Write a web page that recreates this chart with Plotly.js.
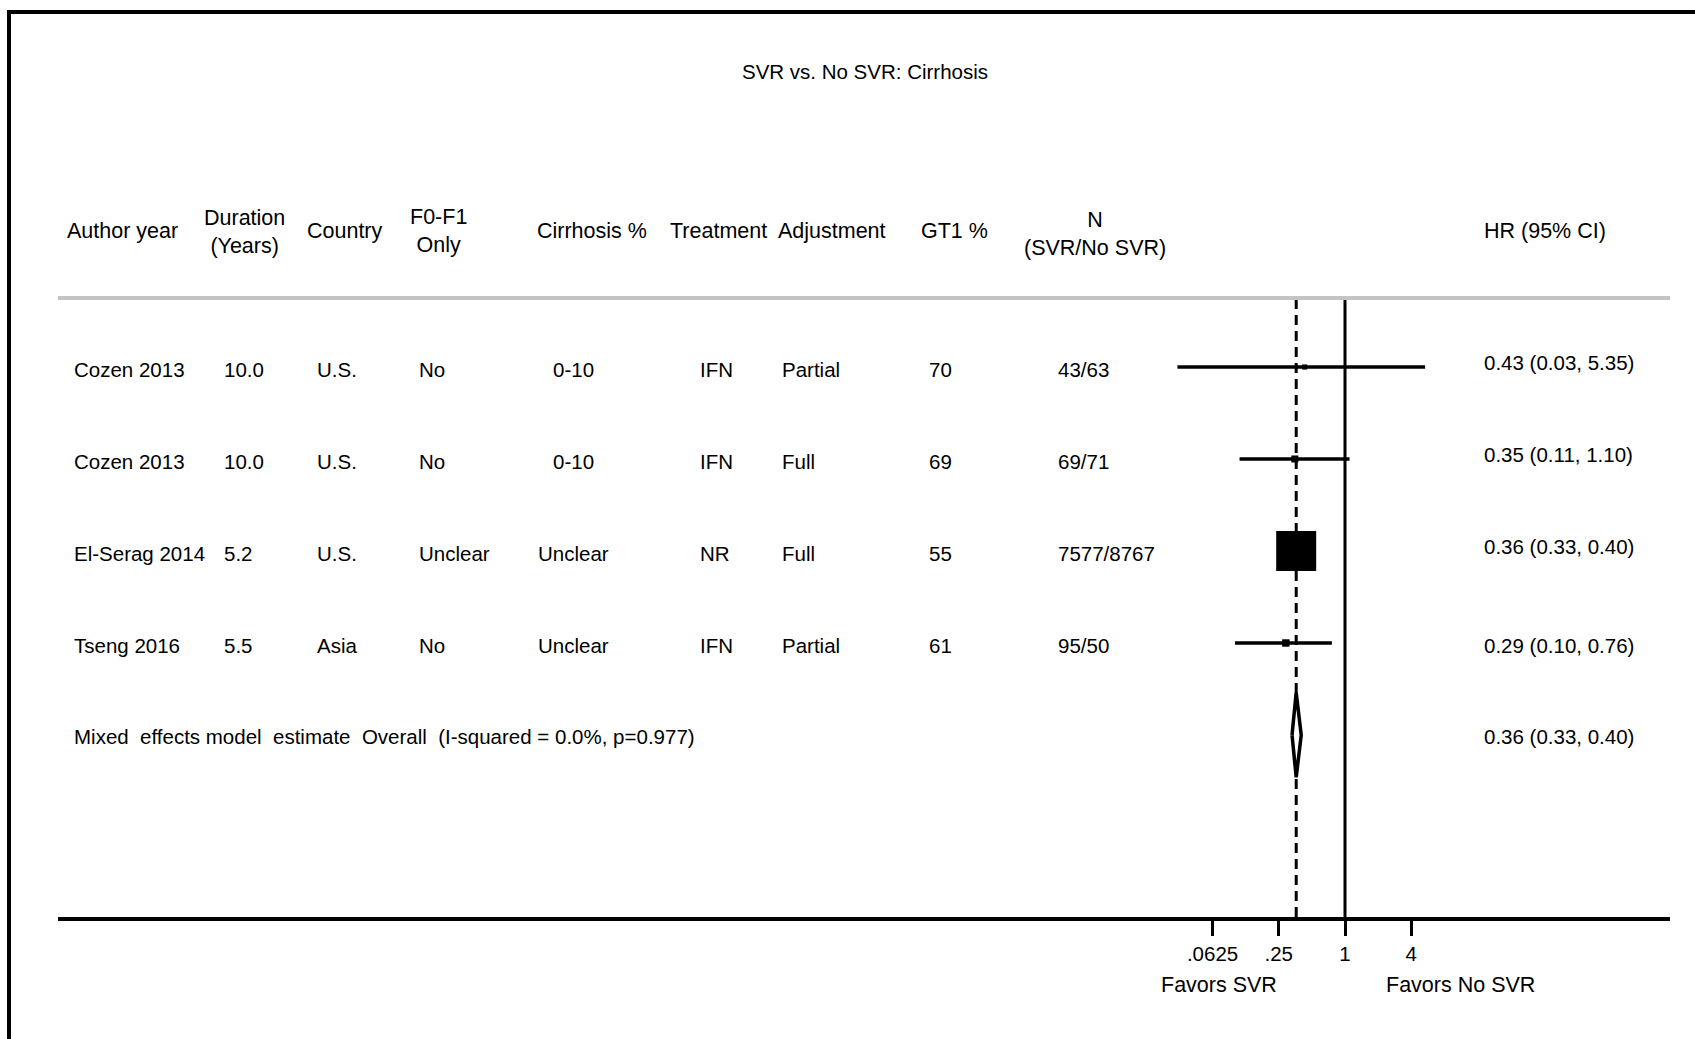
<!DOCTYPE html>
<html>
<head>
<meta charset="utf-8">
<script src="https://cdn.plot.ly/plotly-3.0.1.min.js"></script>
<style>
  html, body { margin: 0; padding: 0; background: #fff; }
  #chart { width: 1695px; height: 1039px; }
</style>
</head>
<body>
<div id="chart"></div>
<script>
// ---------------- DATA ----------------
const chartTitle = 'SVR vs. No SVR: Cirrhosis';
const authors    = ['Cozen 2013', 'Cozen 2013', 'El-Serag 2014', 'Tseng 2016'];
const duration   = ['10.0', '10.0', '5.2', '5.5'];
const country    = ['U.S.', 'U.S.', 'U.S.', 'Asia'];
const f0f1Only   = ['No', 'No', 'Unclear', 'No'];
const cirrhosis  = ['0-10', '0-10', 'Unclear', 'Unclear'];
const treatment  = ['IFN', 'IFN', 'NR', 'IFN'];
const adjustment = ['Partial', 'Full', 'Full', 'Partial'];
const gt1        = ['70', '69', '55', '61'];
const nSvr       = ['43/63', '69/71', '7577/8767', '95/50'];
const hr         = [0.43, 0.35, 0.36, 0.29];
const lower      = [0.03, 0.11, 0.33, 0.10];
const upper      = [5.35, 1.10, 0.40, 0.76];
const weights    = [0.1, 0.7, 98.3, 0.9];
const overallHR  = 0.36;
const overallLo  = 0.33;
const overallHi  = 0.40;
const overallLabel = 'Mixed\u00a0 effects model\u00a0 estimate\u00a0 Overall\u00a0 (I-squared = 0.0%, p=0.977)';
const headers = [
  {text: 'Author year'}, {text: 'Duration<br>(Years)'}, {text: 'Country'},
  {text: 'F0-F1<br>Only'}, {text: 'Cirrhosis %'}, {text: 'Treatment'},
  {text: 'Adjustment'}, {text: 'GT1 %'}, {text: 'N<br>(SVR/No SVR)'}, {text: 'HR (95% CI)'}
];
const tickVals  = [0.0625, 0.25, 1, 4];
const tickText  = ['.0625', '.25', '1', '4'];
const favorsLeft  = 'Favors SVR';
const favorsRight = 'Favors No SVR';

// ---------------- LAYOUT GEOMETRY ----------------
const W = 1695, H = 1039;
const L = 58, R = 1670, T = 298, B = 917;
const pxX = p => (p - L) / (R - L);
const pxY = p => (B - p) / (B - T);
// log axis: value 1 at pixel 1345, 110 px per decade
const pxPerDec = 110, onePix = 1345;
const xRange = [(L - onePix) / pxPerDec, (R - onePix) / pxPerDec];
const rowTopPix = 367, rowBotPix = 735;
const nRows = authors.length;
const rowStep = (rowBotPix - rowTopPix) / nRows;
const yAt = p => nRows - (p - rowTopPix) / rowStep;
const yRange = [yAt(B), yAt(T)];
const rowY = authors.map((_, i) => nRows - i);
const overallY = 0;
const textShift = -2;                  // table text sits slightly below the markers
const hrTextShift = [5, 5, 5, -2];      // HR column offsets as in the reference

const FONT = 'Arial, "Liberation Sans", sans-serif';
const rowFont = {family: FONT, size: 20.5, color: '#000'};
const headFont = {family: FONT, size: 21.5, color: '#000'};

// ---------------- TRACES ----------------
const traces = [];
const yBot = yRange[0], yTop = yRange[1];
traces.push({x: [overallHR, overallHR], y: [yBot, yTop], mode: 'lines',
  line: {color: '#000', width: 3, dash: '10px,6px'}, hoverinfo: 'skip', showlegend: false});
traces.push({x: [1, 1], y: [yBot, yTop], mode: 'lines',
  line: {color: '#000', width: 3}, hoverinfo: 'skip', showlegend: false});
const ciX = [], ciY = [];
for (let i = 0; i < nRows; i++) { ciX.push(lower[i], upper[i], null); ciY.push(rowY[i], rowY[i], null); }
traces.push({x: ciX, y: ciY, mode: 'lines', line: {color: '#000', width: 3.5},
  hoverinfo: 'skip', showlegend: false});
const wMax = Math.max(...weights);
traces.push({x: hr, y: rowY, mode: 'markers', type: 'scatter', opacity: 1,
  marker: {symbol: 'square', color: '#000', opacity: 1,
           size: weights.map(w => 4 + 36 * Math.sqrt(w / wMax)), line: {width: 0}},
  hoverinfo: 'skip', showlegend: false});
const dh = 0.46;
traces.push({x: [overallLo, overallHR, overallHi, overallHR, overallLo],
  y: [overallY, overallY + dh, overallY, overallY - dh, overallY],
  mode: 'lines', fill: 'toself', fillcolor: '#fff', line: {color: '#000', width: 3.5},
  hoverinfo: 'skip', showlegend: false});

// ---------------- ANNOTATIONS ----------------
const ann = [];
function addCol(values, xPix, anchor, shifts) {
  values.forEach((v, i) => ann.push({text: v, x: pxX(xPix), xref: 'paper', xanchor: anchor,
    y: rowY[i], yref: 'y', yanchor: 'middle', yshift: shifts ? shifts[i] : textShift,
    showarrow: false, font: rowFont}));
}
addCol(authors, 72, 'left');
addCol(duration, 222, 'left');
addCol(country, 315, 'left');
addCol(f0f1Only, 417, 'left');
addCol(cirrhosis, 573, 'center');
addCol(treatment, 698, 'left');
addCol(adjustment, 780, 'left');
addCol(gt1, 927, 'left');
addCol(nSvr, 1056, 'left');
const hrLabels = hr.map((h, i) => h.toFixed(2) + ' (' + lower[i].toFixed(2) + ', ' + upper[i].toFixed(2) + ')');
addCol(hrLabels, 1482, 'left', hrTextShift);
ann.push({text: overallLabel, x: pxX(72), xref: 'paper', xanchor: 'left', y: overallY, yref: 'y',
  yanchor: 'middle', yshift: -1, showarrow: false, font: rowFont});
ann.push({text: overallHR.toFixed(2) + ' (' + overallLo.toFixed(2) + ', ' + overallHi.toFixed(2) + ')',
  x: pxX(1482), xref: 'paper', xanchor: 'left', y: overallY, yref: 'y', yanchor: 'middle', yshift: -1,
  showarrow: false, font: rowFont});

const headPos = [[122, 231], [244, 232], [345, 231], [438, 231], [592, 231], [718, 231],
                 [832, 231], [955, 231], [1095, 234], [1545, 231]];
headers.forEach((h, i) => ann.push({text: h.text, x: pxX(headPos[i][0]), xref: 'paper', xanchor: 'center',
  y: pxY(headPos[i][1]), yref: 'paper', yanchor: 'middle', showarrow: false, font: headFont}));

ann.push({text: favorsLeft, x: pxX(1219), xref: 'paper', xanchor: 'center', y: pxY(985), yref: 'paper',
  yanchor: 'middle', showarrow: false, font: headFont});
ann.push({text: favorsRight, x: pxX(1460), xref: 'paper', xanchor: 'center', y: pxY(985), yref: 'paper',
  yanchor: 'middle', showarrow: false, font: headFont});

// ---------------- SHAPES ----------------
const shapes = [
  {type: 'line', xref: 'paper', yref: 'paper', x0: 0, x1: 1, y0: 1, y1: 1,
   line: {color: '#c4c4c4', width: 4}},
  {type: 'line', xref: 'paper', yref: 'paper', x0: pxX(7), x1: pxX(1700), y0: pxY(12), y1: pxY(12),
   line: {color: '#000', width: 4}},
  {type: 'line', xref: 'paper', yref: 'paper', x0: pxX(9), x1: pxX(9), y0: pxY(10), y1: pxY(1045),
   line: {color: '#000', width: 4}}
];

const layout = {
  width: W, height: H,
  margin: {l: L, r: W - R, t: T, b: H - B, pad: 0},
  paper_bgcolor: '#fff', plot_bgcolor: '#fff',
  showlegend: false,
  title: {text: chartTitle, x: 865 / W, xref: 'container', xanchor: 'center',
          y: 1 - 72 / H, yref: 'container', yanchor: 'middle',
          font: {family: FONT, size: 20.5, color: '#000'}},
  xaxis: {type: 'log', range: xRange, showgrid: false, zeroline: false,
          showline: true, linecolor: '#000', linewidth: 4,
          ticks: 'outside', ticklen: 15, tickwidth: 3, tickcolor: '#000',
          tickvals: tickVals, ticktext: tickText,
          tickfont: {family: FONT, size: 20.5, color: '#000'}, fixedrange: true},
  yaxis: {range: yRange, visible: false, showgrid: false, zeroline: false, fixedrange: true},
  annotations: ann,
  shapes: shapes
};

Plotly.newPlot('chart', traces, layout, {displayModeBar: false, staticPlot: true});
</script>
</body>
</html>
